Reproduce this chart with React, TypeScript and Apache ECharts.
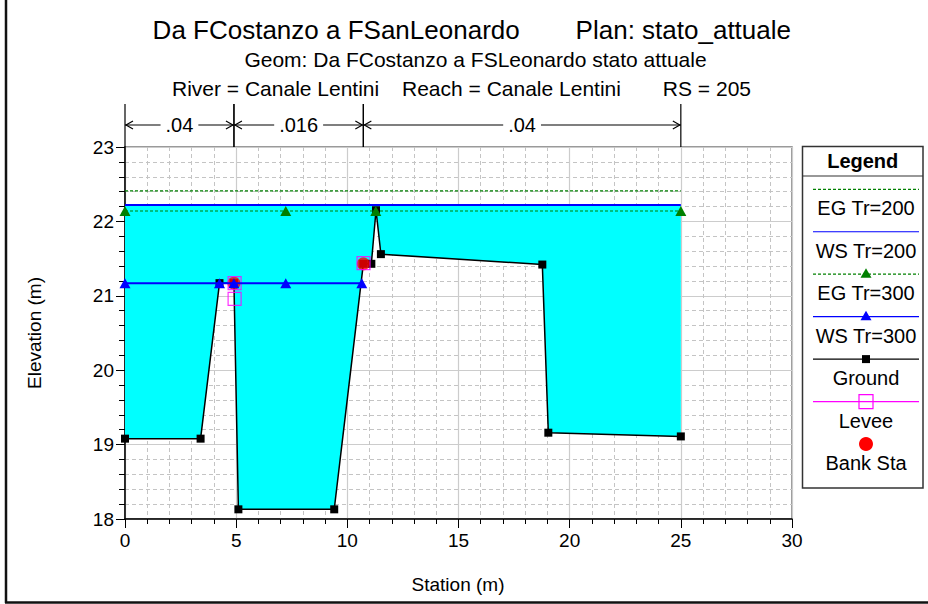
import React, { useEffect, useRef } from "react";
import * as echarts from "echarts";

const FONT = '"Liberation Sans", Arial, Helvetica, sans-serif';

// ---- texts ----
const titleMain = "Da FCostanzo a FSanLeonardo";
const titlePlan = "Plan: stato_attuale";
const titleGeom = "Geom: Da FCostanzo a FSLeonardo stato attuale";
const titleRiver = "River = Canale Lentini";
const titleReach = "Reach = Canale Lentini";
const titleRS = "RS = 205";
const xAxisTitle = "Station (m)";
const yAxisTitle = "Elevation (m)";
const legendTitle = "Legend";

// ---- axes ----
const xMin = 0;
const xMax = 30;
const xInterval = 5;
const yMin = 18;
const yMax = 23;
const yInterval = 1;

// ---- data ----
const groundStation = [0, 3.4, 4.25, 4.9, 5.1, 9.41, 10.72, 11.08, 11.29, 11.51, 18.77, 19.04, 25];
const groundElev = [19.08, 19.08, 21.17, 21.17, 18.13, 18.13, 21.43, 21.43, 22.15, 21.56, 21.42, 19.16, 19.11];

const egTr200Station = [0, 25];
const egTr200Elev = [22.41, 22.41];

const wsTr200Station = [0, 25];
const wsTr200Elev = [22.22, 22.22];

const egTr300Station = [0, 7.23, 11.28, 25];
const egTr300Elev = [22.14, 22.14, 22.14, 22.14];

const wsTr300Station = [0, 4.25, 4.9, 7.23, 10.65];
const wsTr300Elev = [21.17, 21.17, 21.17, 21.17, 21.17];

const leveeStation = [4.93, 4.93, 10.73];
const leveeElev = [21.17, 20.96, 21.44];

const bankStation = [4.9, 10.72];
const bankElev = [21.17, 21.43];

const manningBreaks = [0, 4.9, 10.72, 25];
const manningN = [".04", ".016", ".04"];

const legendNames = ["EG Tr=200", "WS Tr=200", "EG Tr=300", "WS Tr=300", "Ground", "Levee", "Bank Sta"];

const pairs = (xs: number[], ys: number[]) => xs.map((x, i) => [x, ys[i]]);

export default function App() {
  const ref = useRef<HTMLDivElement>(null);

  useEffect(() => {
    const chart = echarts.init(ref.current!, null, { renderer: "svg" });

    const GREEN = "#008000";
    const BLUE = "#0000ff";

    // legend graphic
    const lgLeft = 802.5;
    const lgTop = 146.5;
    const lgW = 120.5;
    const lgH = 341.5;
    const lgCx = 866;
    const legendChildren: any[] = [
      {
        type: "rect",
        shape: { x: lgLeft, y: lgTop, width: lgW, height: lgH },
        style: { fill: "#fff", stroke: "#333", lineWidth: 1.5 },
      },
      {
        type: "text",
        x: lgLeft + lgW / 2,
        y: 161,
        style: { text: legendTitle, font: `bold 20px ${FONT}`, fill: "#000", textAlign: "center", textVerticalAlign: "middle" },
      },
      {
        type: "line",
        shape: { x1: lgLeft, y1: 176, x2: lgLeft + lgW, y2: 176 },
        style: { stroke: "#333", lineWidth: 1.2 },
      },
    ];
    const legendStyles = [
      { stroke: GREEN, dash: [3, 2], marker: null },
      { stroke: BLUE, dash: null, marker: null },
      { stroke: GREEN, dash: [3, 2], marker: "triGreen" },
      { stroke: BLUE, dash: null, marker: "triBlue" },
      { stroke: "#000", dash: null, marker: "square" },
      { stroke: "#ff00ff", dash: null, marker: "hollow" },
      { stroke: null, dash: null, marker: "circle" },
    ];
    legendNames.forEach((name, i) => {
      const ly = 189.3 + i * 42.45;
      const st = legendStyles[i];
      if (st.stroke) {
        legendChildren.push({
          type: "line",
          shape: { x1: 813, y1: ly, x2: 919, y2: ly },
          style: { stroke: st.stroke, lineWidth: 1.2, lineDash: st.dash || undefined },
        });
      }
      if (st.marker === "triGreen" || st.marker === "triBlue") {
        legendChildren.push({
          type: "polygon",
          shape: { points: [[lgCx, ly - 6], [lgCx - 5.5, ly + 3.5], [lgCx + 5.5, ly + 3.5]] },
          style: { fill: st.marker === "triGreen" ? GREEN : BLUE },
        });
      } else if (st.marker === "square") {
        legendChildren.push({
          type: "rect",
          shape: { x: lgCx - 4, y: ly - 4, width: 8, height: 8 },
          style: { fill: "#000" },
        });
      } else if (st.marker === "hollow") {
        legendChildren.push({
          type: "rect",
          shape: { x: lgCx - 7, y: ly - 7, width: 14, height: 14 },
          style: { fill: "none", stroke: "#ff00ff", lineWidth: 1.2 },
        });
      } else if (st.marker === "circle") {
        legendChildren.push({
          type: "circle",
          shape: { cx: lgCx, cy: ly, r: 7 },
          style: { fill: "#ff0000" },
        });
      }
      legendChildren.push({
        type: "text",
        x: lgCx,
        y: ly + 19,
        style: { text: name, font: `20px ${FONT}`, fill: "#000", textAlign: "center", textVerticalAlign: "middle" },
      });
    });

    const txt = (text: string, x: number, y: number, size: number, align = "center", extra: any = {}) => ({
      type: "text",
      x,
      y,
      ...extra,
      style: { text, font: `${size}px ${FONT}`, fill: "#000", textAlign: align, textVerticalAlign: "middle" },
    });

    const option: any = {
      animation: false,
      backgroundColor: "#fff",
      grid: {
        left: 125,
        top: 147,
        width: 667,
        height: 372,
        show: true,
        borderColor: "#7a7a7a",
        borderWidth: 1.5,
        backgroundColor: "#fff",
      },
      xAxis: {
        type: "value",
        min: xMin,
        max: xMax,
        interval: xInterval,
        axisLine: { show: true, onZero: false, lineStyle: { color: "#000", width: 1.5 } },
        axisTick: { show: true, length: 9, lineStyle: { color: "#000", width: 1 } },
        minorTick: { show: true, splitNumber: 5, length: 5, lineStyle: { color: "#000", width: 1 } },
        splitLine: { show: true, lineStyle: { color: "#cccccc", width: 1.2 } },
        minorSplitLine: { show: true, lineStyle: { color: "#c4c4c4", width: 1, type: [4, 3] } },
        axisLabel: { fontSize: 19, color: "#000", margin: 12, fontFamily: FONT },
      },
      yAxis: {
        type: "value",
        min: yMin,
        max: yMax,
        interval: yInterval,
        axisLine: { show: true, onZero: false, lineStyle: { color: "#000", width: 1.5 } },
        axisTick: { show: true, length: 9, lineStyle: { color: "#000", width: 1 } },
        minorTick: { show: true, splitNumber: 5, length: 6, lineStyle: { color: "#000", width: 1 } },
        splitLine: { show: true, lineStyle: { color: "#cccccc", width: 1.2 } },
        minorSplitLine: { show: true, lineStyle: { color: "#c4c4c4", width: 1, type: [4, 3] } },
        axisLabel: { fontSize: 19, color: "#000", margin: 11, fontFamily: FONT },
      },
      graphic: [
        { type: "line", shape: { x1: 6, y1: 0, x2: 6, y2: 603 }, style: { stroke: "#111", lineWidth: 2.5 } },
        { type: "line", shape: { x1: 5, y1: 602.5, x2: 928, y2: 602.5 }, style: { stroke: "#111", lineWidth: 2.5 } },
        txt(titleMain, 152.6, 30, 26, "left"),
        txt(titlePlan, 791, 30, 26, "right"),
        txt(titleGeom, 475.5, 59, 21),
        txt(titleRiver, 172, 88, 21, "left"),
        txt(titleReach, 402, 88, 21, "left"),
        txt(titleRS, 751, 88, 21, "right"),
        txt(yAxisTitle, 34, 333, 19, "center", { rotation: Math.PI / 2 }),
        txt(xAxisTitle, 458, 584, 19),
        { type: "group", children: legendChildren },
      ],
      series: [
        {
          name: "water",
          type: "custom",
          silent: true,
          data: [[wsTr200Station[0], wsTr200Elev[0]]],
          renderItem: (_p: any, api: any) => {
            const pts: number[][] = [];
            wsTr200Station.forEach((x, i) => pts.push(api.coord([x, wsTr200Elev[i]])));
            for (let i = groundStation.length - 1; i >= 0; i--) {
              pts.push(api.coord([groundStation[i], groundElev[i]]));
            }
            return { type: "polygon", shape: { points: pts }, style: { fill: "#00ffff", stroke: "none" } };
          },
          z: 1,
        },
        {
          name: "Ground",
          type: "line",
          silent: true,
          data: pairs(groundStation, groundElev),
          symbol: "rect",
          symbolSize: 8,
          showSymbol: true,
          lineStyle: { color: "#000", width: 1.5 },
          itemStyle: { color: "#000" },
          z: 3,
        },
        {
          name: "Bank Sta",
          type: "scatter",
          silent: true,
          data: pairs(bankStation, bankElev),
          symbol: "circle",
          symbolSize: 13,
          itemStyle: { color: "#ff0000" },
          z: 4,
        },
        {
          name: "Levee",
          type: "scatter",
          silent: true,
          data: pairs(leveeStation, leveeElev),
          symbol: "rect",
          symbolSize: 13,
          itemStyle: { color: "rgba(0,0,0,0)", borderColor: "#ff00ff", borderWidth: 1.2 },
          z: 5,
        },
        {
          name: "EG Tr=200",
          type: "line",
          silent: true,
          data: pairs(egTr200Station, egTr200Elev),
          showSymbol: false,
          symbol: "none",
          lineStyle: { color: GREEN, width: 1.2, type: [3, 2] },
          z: 6,
        },
        {
          name: "WS Tr=200",
          type: "line",
          silent: true,
          data: pairs(wsTr200Station, wsTr200Elev),
          showSymbol: false,
          symbol: "none",
          lineStyle: { color: BLUE, width: 2 },
          z: 6,
        },
        {
          name: "EG Tr=300",
          type: "line",
          silent: true,
          data: pairs(egTr300Station, egTr300Elev),
          symbol: "triangle",
          symbolSize: [11, 10],
          showSymbol: true,
          lineStyle: { color: GREEN, width: 1.2, type: [3, 2] },
          itemStyle: { color: GREEN },
          z: 7,
        },
        {
          name: "WS Tr=300",
          type: "line",
          silent: true,
          data: pairs(wsTr300Station, wsTr300Elev),
          symbol: "triangle",
          symbolSize: [11, 10],
          showSymbol: true,
          lineStyle: { color: BLUE, width: 2 },
          itemStyle: { color: BLUE },
          z: 7,
        },
        {
          name: "manning",
          type: "custom",
          silent: true,
          clip: false,
          data: manningN.map((_n, i) => [manningBreaks[i], manningBreaks[i + 1]]),
          renderItem: (params: any, api: any) => {
            const x0 = api.value(0);
            const x1 = api.value(1);
            const p0 = api.coord([x0, yMax]);
            const p1 = api.coord([x1, yMax]);
            const top = p0[1];
            const ay = top - 22;
            const vy = top - 43;
            const label = manningN[params.dataIndex];
            const cx = (p0[0] + p1[0]) / 2;
            const ln = { stroke: "#000", lineWidth: 1.2, fill: "none" };
            return {
              type: "group",
              children: [
                { type: "line", shape: { x1: p0[0], y1: vy, x2: p0[0], y2: top }, style: ln },
                { type: "line", shape: { x1: p1[0], y1: vy, x2: p1[0], y2: top }, style: ln },
                { type: "line", shape: { x1: p0[0], y1: ay, x2: p1[0], y2: ay }, style: ln },
                { type: "polyline", shape: { points: [[p0[0] + 8, ay - 4], [p0[0] + 1, ay], [p0[0] + 8, ay + 4]] }, style: ln },
                { type: "polyline", shape: { points: [[p1[0] - 8, ay - 4], [p1[0] - 1, ay], [p1[0] - 8, ay + 4]] }, style: ln },
                {
                  type: "text",
                  x: cx,
                  y: ay,
                  style: {
                    text: label,
                    font: `20px ${FONT}`,
                    fill: "#000",
                    textAlign: "center",
                    textVerticalAlign: "middle",
                    backgroundColor: "#fff",
                    padding: [0, 5],
                  },
                },
              ],
            };
          },
          z: 8,
        },
      ],
    };

    chart.setOption(option);
    return () => chart.dispose();
  }, []);

  return <div ref={ref} style={{ position: "absolute", left: 0, top: 0, width: 928, height: 604 }} />;
}
